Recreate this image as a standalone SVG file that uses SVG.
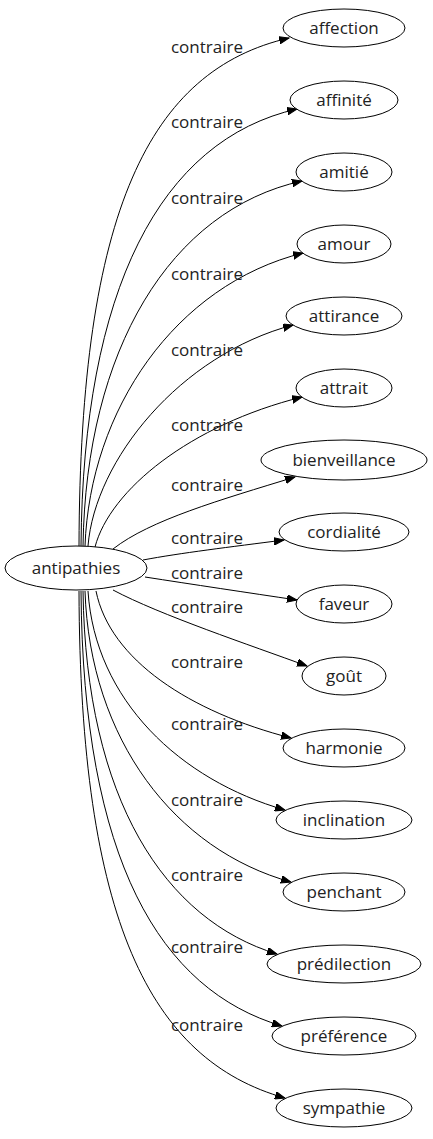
<svg xmlns="http://www.w3.org/2000/svg" width="433" height="1139" viewBox="0 0 433 1139">
<style>
.n ellipse{fill:#fff;stroke:#000;stroke-width:1}
text{font-family:"Open Sans","DejaVu Sans",sans-serif;font-size:17px;fill:#222}
.n text{text-anchor:middle}
.e path{fill:none;stroke:#000;stroke-width:1;marker-end:url(#arr)}
.l text{text-anchor:middle}
</style>
<defs>
<marker id="arr" markerUnits="userSpaceOnUse" markerWidth="11" markerHeight="8" refX="10" refY="3.75" orient="auto">
<path d="M0,0 L10,3.75 L0,7.5 z" fill="#000" stroke="#000" stroke-width="1"/>
</marker>
</defs>
<rect width="433" height="1139" fill="#fff"/>
<g id="connectors" class="e">
<path d="M79,546 C80,210 150,70 289,38"/>
<path d="M81,546 C83,290 160,140 297,109"/>
<path d="M83,546 C86,350 170,210 302,181"/>
<path d="M85,546 C90,410 175,285 303,253"/>
<path d="M88,546 C95,460 180,355 293,325"/>
<path d="M95,547 C110,490 190,425 302,397"/>
<path d="M113,549 C150,520 220,500 295,477"/>
<path d="M143,560 C180,553 230,547 284,540"/>
<path d="M145,577 C190,584 250,593 297,600"/>
<path d="M113,590 C160,615 250,645 307,666"/>
<path d="M96,591 C110,660 190,712 291,738"/>
<path d="M88,591 C95,700 180,780 285,810"/>
<path d="M85,591 C90,740 175,850 291,882"/>
<path d="M83,591 C86,800 165,920 277,954"/>
<path d="M81,591 C83,860 160,990 282,1026"/>
<path d="M79,591 C80,920 150,1060 285,1098"/>
</g>
<g id="labels" class="l">
<text x="207" y="53">contraire</text>
<text x="207" y="128">contraire</text>
<text x="207" y="204">contraire</text>
<text x="207" y="280">contraire</text>
<text x="207" y="356">contraire</text>
<text x="207" y="431">contraire</text>
<text x="207" y="491">contraire</text>
<text x="207" y="544">contraire</text>
<text x="207" y="579">contraire</text>
<text x="207" y="613">contraire</text>
<text x="207" y="668">contraire</text>
<text x="207" y="730">contraire</text>
<text x="207" y="806">contraire</text>
<text x="207" y="881">contraire</text>
<text x="207" y="953">contraire</text>
<text x="207" y="1031">contraire</text>
</g>
<g id="antipathies" class="n"><ellipse cx="76" cy="568" rx="71" ry="22"/><text x="76" y="574">antipathies</text></g>
<g id="affection" class="n"><ellipse cx="344" cy="28" rx="61" ry="19"/><text x="344" y="34">affection</text></g>
<g id="affinite" class="n"><ellipse cx="344" cy="100" rx="54" ry="19"/><text x="344" y="106">affinité</text></g>
<g id="amitie" class="n"><ellipse cx="344" cy="172" rx="48" ry="19"/><text x="344" y="178">amitié</text></g>
<g id="amour" class="n"><ellipse cx="344" cy="244" rx="47" ry="19"/><text x="344" y="250">amour</text></g>
<g id="attirance" class="n"><ellipse cx="344" cy="316" rx="58" ry="19"/><text x="344" y="322">attirance</text></g>
<g id="attrait" class="n"><ellipse cx="344" cy="388" rx="48" ry="19"/><text x="344" y="394">attrait</text></g>
<g id="bienveillance" class="n"><ellipse cx="344" cy="460" rx="83" ry="20"/><text x="344" y="466">bienveillance</text></g>
<g id="cordialite" class="n"><ellipse cx="344" cy="532" rx="65" ry="19"/><text x="344" y="538">cordialité</text></g>
<g id="faveur" class="n"><ellipse cx="344" cy="604" rx="48" ry="19"/><text x="344" y="610">faveur</text></g>
<g id="gout" class="n"><ellipse cx="344" cy="676" rx="42" ry="19"/><text x="344" y="682">goût</text></g>
<g id="harmonie" class="n"><ellipse cx="344" cy="748" rx="61" ry="19"/><text x="344" y="754">harmonie</text></g>
<g id="inclination" class="n"><ellipse cx="344" cy="820" rx="68" ry="19"/><text x="344" y="826">inclination</text></g>
<g id="penchant" class="n"><ellipse cx="344" cy="892" rx="61" ry="19"/><text x="344" y="898">penchant</text></g>
<g id="predilection" class="n"><ellipse cx="344" cy="964" rx="77" ry="19"/><text x="344" y="970">prédilection</text></g>
<g id="preference" class="n"><ellipse cx="344" cy="1036" rx="72" ry="19"/><text x="344" y="1042">préférence</text></g>
<g id="sympathie" class="n"><ellipse cx="344" cy="1108" rx="68" ry="19"/><text x="344" y="1114">sympathie</text></g>
</svg>
